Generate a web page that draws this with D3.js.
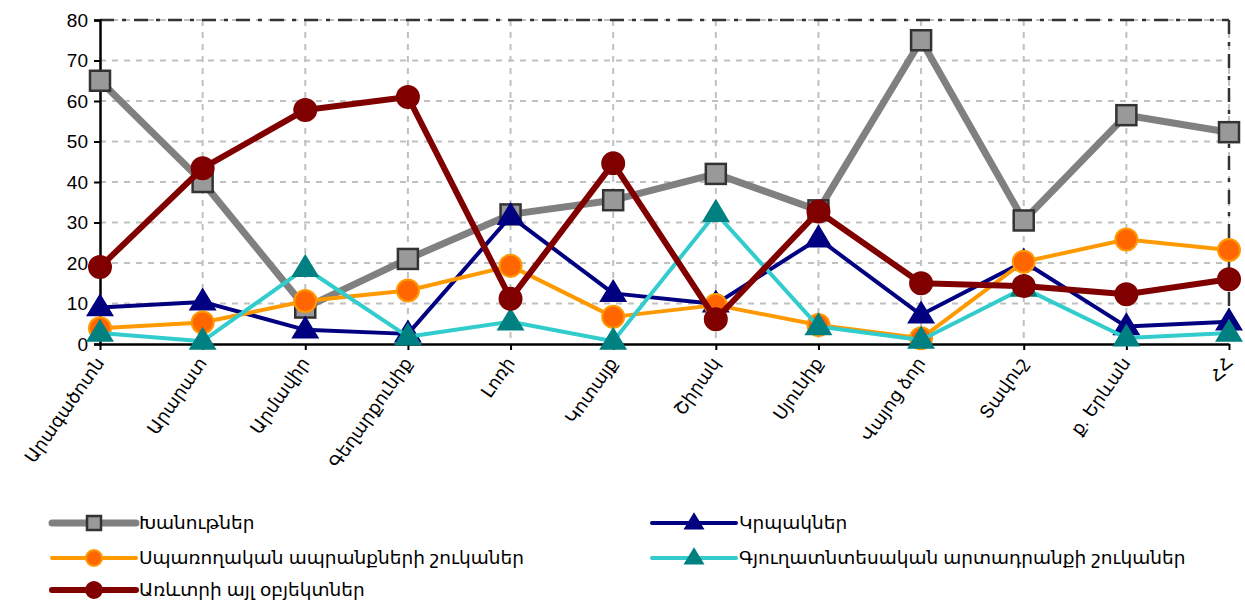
<!DOCTYPE html>
<html><head><meta charset="utf-8">
<script src="https://cdn.jsdelivr.net/npm/d3@7"></script>
<style>body{margin:0;background:#fff}svg{display:block}</style>
</head><body><svg id="c" width="1245" height="605"></svg>
<script>
const categories = ["Արագածոտն","Արարատ","Արմավիր","Գեղարքունիք","Լոռի","Կոտայք","Շիրակ","Սյունիք","Վայոց ձոր","Տավուշ","ք. Երևան","ՀՀ"];
const shops    = [65, 40, 9, 21, 32, 35.5, 42, 33, 75, 30.5, 56.5, 52.3];
const kiosks   = [9, 10.4, 3.5, 2.5, 31.5, 12.5, 9.9, 26, 7.2, 20.3, 4.3, 5.5];
const consumer = [3.9, 5.3, 10.6, 13.2, 19.3, 6.7, 9.6, 4.7, 1.4, 20.3, 25.8, 23.2];
const agri     = [2.7, 0.7, 18.7, 1.8, 5.5, 0.7, 32.3, 4.3, 1, 13.8, 1.5, 2.7];
const other    = [19, 43.4, 57.8, 61, 11.2, 44.6, 6.1, 32.7, 15, 14.3, 12.3, 16];
const yTicks = [0,10,20,30,40,50,60,70,80];

const series = [
  {name:"Խանութներ", values:shops, line:"#808080", lw:7, marker:"square", fill:"#999999", stroke:"#333333"},
  {name:"Կրպակներ", values:kiosks, line:"#000080", lw:4, marker:"triangle", fill:"#000080", stroke:"#000080"},
  {name:"Սպառողական ապրանքների շուկաներ", values:consumer, line:"#FF9900", lw:4, marker:"circle", fill:"#FF6600", stroke:"#FF9900"},
  {name:"Գյուղատնտեսական արտադրանքի շուկաներ", values:agri, line:"#33CCCC", lw:4, marker:"triangle", fill:"#008080", stroke:"#008080"},
  {name:"Առևտրի այլ օբյեկտներ", values:other, line:"#800000", lw:6, marker:"circle", fill:"#800000", stroke:"#800000"}
];
const drawOrder = [0,1,2,3,4];

const svg = d3.select("#c");
const L=100, R=1229, T=20, B=344;
const x = d3.scalePoint().domain(categories).range([L,R]).padding(0);
const y = d3.scaleLinear().domain([0,80]).range([B,T]);
const font = "Arial, 'Liberation Sans', 'DejaVu Sans', sans-serif";

// grid
const g = svg.append("g");
g.selectAll(".hg").data(yTicks.filter(d=>d>0)).join("line")
  .attr("x1",L).attr("x2",R).attr("y1",d=>y(d)).attr("y2",d=>y(d))
  .attr("stroke","#c0c0c0").attr("stroke-width",2).attr("stroke-dasharray","6,6");
g.selectAll(".vg").data(categories.slice(1)).join("line")
  .attr("x1",d=>x(d)).attr("x2",d=>x(d)).attr("y1",T).attr("y2",B)
  .attr("stroke","#c0c0c0").attr("stroke-width",2).attr("stroke-dasharray","6,6");
// top & right border dash-dot
svg.append("line").attr("x1",L).attr("x2",R).attr("y1",T).attr("y2",T)
  .attr("stroke","#333").attr("stroke-width",2.5).attr("stroke-dasharray","14,8,4,8");
svg.append("line").attr("x1",R).attr("x2",R).attr("y1",T).attr("y2",B)
  .attr("stroke","#333").attr("stroke-width",2.5).attr("stroke-dasharray","14,8,4,8");

// axes
const ya = svg.append("g").attr("transform",`translate(${L},0)`)
  .call(d3.axisLeft(y).tickValues(yTicks).tickSize(6).tickPadding(6).tickFormat(d3.format("d")));
ya.select(".domain").attr("stroke","#000").attr("stroke-width",2.5);
ya.selectAll(".tick line").attr("stroke","#000").attr("stroke-width",2);
ya.selectAll("text").attr("font-family",font).attr("font-size",19).attr("fill","#000");

const xa = svg.append("g").attr("transform",`translate(0,${B})`)
  .call(d3.axisBottom(x).tickSize(6).tickSizeOuter(0).tickFormat(""));
xa.select(".domain").attr("stroke","#000").attr("stroke-width",2.5);
xa.selectAll(".tick line").attr("stroke","#000").attr("stroke-width",2);
svg.append("g").selectAll("text").data(categories).join("text")
  .attr("transform",d=>`translate(${x(d)+5},${B+19}) rotate(-55)`)
  .attr("text-anchor","end").attr("font-family",font).attr("font-size",18).attr("fill","#000")
  .text(d=>d);

// lines & markers
function marker(sel, s, size){
  if(s.marker==="square"){
    sel.append("rect").attr("x",-size).attr("y",-size).attr("width",size*2).attr("height",size*2)
      .attr("fill",s.fill).attr("stroke",s.stroke).attr("stroke-width",2.5);
  } else if(s.marker==="circle"){
    sel.append("circle").attr("r",size).attr("fill",s.fill).attr("stroke",s.stroke).attr("stroke-width",2);
  } else {
    const h=size*1.9, w=size*1.15;
    sel.append("path").attr("d",`M0,${-h*0.62}L${w},${h*0.38}L${-w},${h*0.38}Z`)
      .attr("fill",s.fill).attr("stroke",s.stroke).attr("stroke-width",1.5);
  }
}
const line = d3.line().x((d,i)=>x(categories[i])).y(d=>y(d));
drawOrder.forEach(k=>{
  const s=series[k];
  svg.append("path").datum(s.values).attr("d",line).attr("fill","none")
    .attr("stroke",s.line).attr("stroke-width",s.lw).attr("stroke-linejoin","round");
  s.values.forEach((v,i)=>{
    const m=svg.append("g").attr("transform",`translate(${x(categories[i])},${y(v)})`);
    marker(m,s, s.marker==="square"?10:11);
  });
});

// legend
const legendPos = [[52,523],[652,523],[52,558],[652,558],[52,590]];
series.forEach((s,k)=>{
  const [lx,ly]=legendPos[k];
  const lg=svg.append("g");
  lg.append("line").attr("x1",lx).attr("x2",lx+84).attr("y1",ly).attr("y2",ly)
    .attr("stroke",s.line).attr("stroke-width",s.lw).attr("stroke-linecap","round");
  const m=lg.append("g").attr("transform",`translate(${lx+42},${ly})`);
  marker(m,s, s.marker==="square"?7:8);
  lg.append("text").attr("x",lx+87).attr("y",ly+6).attr("font-family",font).attr("font-size",18.5)
    .attr("fill","#000").text(s.name);
});
</script></body></html>
